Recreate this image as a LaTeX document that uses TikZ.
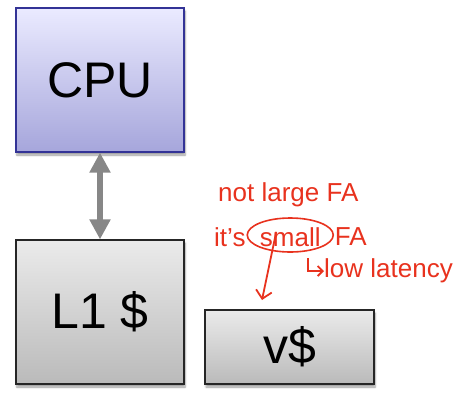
\documentclass[tikz,border=0pt]{standalone}
\usepackage{fontspec}
\setmainfont{Liberation Sans}
\usetikzlibrary{arrows.meta, positioning, shadows.blur}
\definecolor{cpublue}{RGB}{51, 51, 150}
\definecolor{inkred}{RGB}{232, 50, 30}

\tikzset{
  unitbox/.style={draw, line width=1.2pt, font=\fontsize{50}{50}\selectfont,
    blur shadow={shadow xshift=1pt, shadow yshift=-3pt, shadow blur steps=6}},
  cachebox/.style={unitbox, draw=black!85, top color=black!8, bottom color=black!27},
  ink/.style={text=inkred, font=\fontsize{26}{26}\selectfont, inner sep=0pt},
}

\begin{document}
\begin{tikzpicture}[x=1pt, y=-1pt]
  \useasboundingbox (0,0) rectangle (476,413);

  % Boxes
  \node[unitbox, draw=cpublue, top color=blue!8!white, bottom color=blue!60!black!35!white,
    minimum width=168pt, minimum height=144pt] (cpu) at (100,80) {CPU};
  \node[cachebox, minimum width=168pt, minimum height=144pt] (l1) at (100,312) {L1 \$};
  \node[cachebox, minimum width=169pt, minimum height=74pt] (vc) at (289.5,347) {v\$};

  % Bus
  \draw[black!47, line width=6pt, {Triangle[width=20pt, length=20pt]}-{Triangle[width=20pt, length=20pt]}]
    (cpu.south) -- (l1.north);

  % Annotations
  \node[ink, anchor=west] (notlarge) at (218,195) {not large FA};
  \node[ink, anchor=west] (its) at (214,237) {it's};
  \node[ink, right=14pt of its] (small) {small};
  \node[ink, right=14pt of small] (fa) {FA};
  \draw[inkred, line width=1.6pt] (small.center) ++(0,2pt) ellipse (43pt and 17pt);
  \coordinate (tip) at (262,300);
  \draw[inkred, line width=1.8pt, -{Straight Barb[length=8pt, width=16pt]}] (small.south) ++(-14pt,15pt) -- (tip);
  \node[ink, anchor=west] (lowlat) at (324,271) {low latency};
  \coordinate (hook) at (308,258);
  \draw[inkred, line width=1.8pt, -{Straight Barb[length=5pt, width=10pt]}] (hook) |- (lowlat.west);
\end{tikzpicture}
\end{document}
